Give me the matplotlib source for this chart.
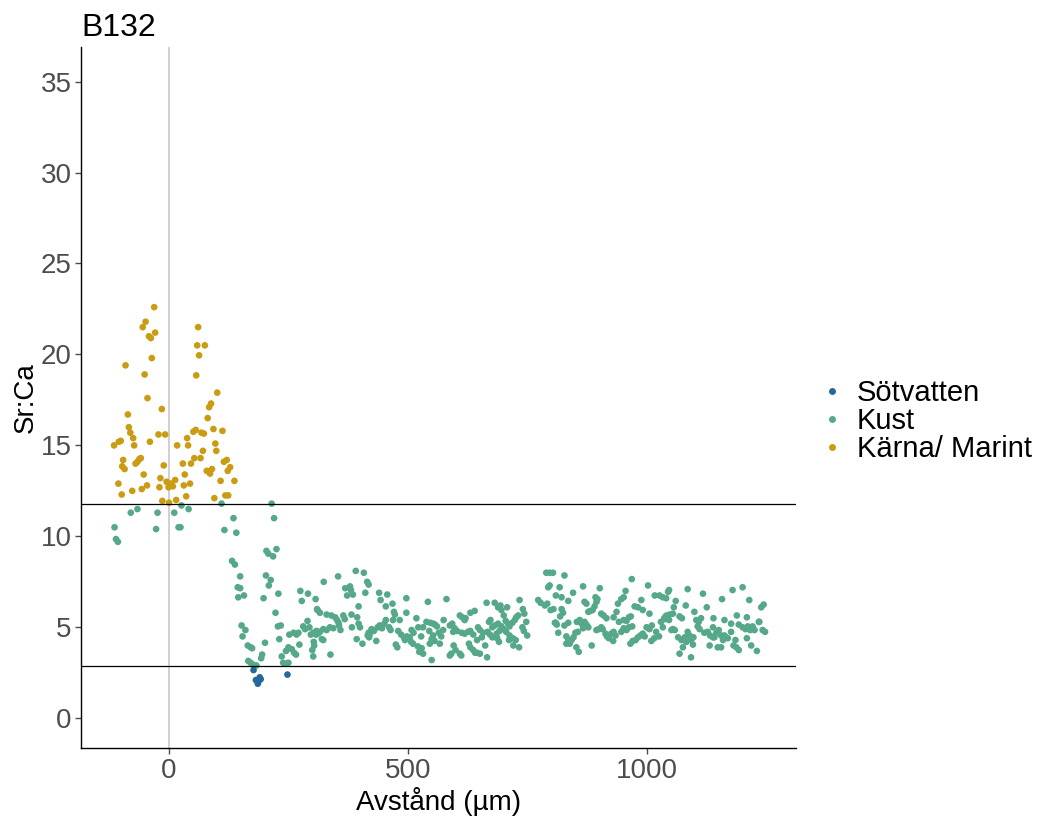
import matplotlib
matplotlib.use("Agg")
import matplotlib.pyplot as plt
from matplotlib.lines import Line2D
import numpy as np

plt.rcParams['font.family'] = ['Liberation Sans', 'DejaVu Sans']

# Sr:Ca profile, sample B132 (x = distance in µm, y = Sr:Ca)
marint_pts = [
    (-31, 22.6), (-49, 21.8), (-55, 21.5), (-29, 21.2), (-42, 21.0), (-38, 20.9), (-36, 19.8),
    (-91, 19.4), (-51, 18.9), (-45, 17.6), (-15, 17.0), (-86, 16.7), (-84, 16.0), (-81, 15.7),
    (-75, 15.4), (-115, 15.0), (-105, 15.2), (-101, 15.25), (-73, 15.0), (-40, 15.2), (-22, 15.6),
    (-8, 15.6), (-96, 14.2), (-98, 13.85), (-93, 13.7), (-70, 14.0), (-66, 14.1), (-62, 14.25),
    (-59, 14.3), (-53, 13.4), (-11, 13.9), (-106, 12.9), (-99, 12.3), (-77, 12.5), (-57, 12.6),
    (-46, 12.8), (-18, 13.2), (-20, 12.7), (-5, 13.0), (-1, 12.7), (4, 12.9), (8, 12.75),
    (13, 13.1), (-14, 11.95), (0, 11.85), (15, 12.0), (17, 15.0), (29, 14.0), (33, 13.4),
    (31, 12.8), (36, 12.2), (44, 12.9), (46, 14.0), (38, 15.4), (40, 15.0), (53, 14.3),
    (66, 14.3), (71, 14.7), (51, 15.75), (56, 15.85), (68, 15.7), (73, 15.65), (61, 21.5),
    (59, 20.5), (75, 20.5), (63, 19.95), (57, 18.85), (101, 17.9), (88, 17.3), (84, 17.1),
    (81, 16.5), (93, 15.9), (112, 15.8), (97, 15.1), (99, 14.7), (79, 13.6), (86, 13.45),
    (90, 13.7), (108, 13.05), (115, 14.1), (121, 14.2), (123, 13.6), (128, 13.8), (137, 13.05),
    (95, 12.1), (118, 12.25), (124, 12.25),
]

sot_pts = [(177, 2.65), (182, 2.1), (187, 2.0), (190, 2.25), (192, 2.15), (186, 1.9), (248, 2.4)]

kust_pts = [
    # start of profile / transition
    (-114, 10.5), (-111, 9.85), (-107, 9.7), (-80, 11.3), (-66, 11.5), (-27, 10.4), (-24, 11.3),
    (11, 11.3), (20, 10.5), (24, 10.5), (26, 11.7), (41, 11.5), (110, 11.8), (116, 10.35),
    (135, 11.0), (141, 10.2), (132, 8.65), (138, 8.45), (149, 7.8), (144, 7.2), (149, 7.15),
    (145, 6.65), (157, 6.75), (152, 5.1), (160, 4.85), (154, 4.5), (165, 4.0), (171, 3.9),
    (174, 3.85), (166, 3.15), (171, 3.05), (176, 2.95), (183, 2.9), (215, 11.8), (220, 11.0),
    (204, 9.2), (208, 9.05), (218, 8.9), (225, 9.3), (203, 7.85), (213, 7.6), (209, 7.3),
    (198, 6.6), (229, 6.85), (223, 5.8), (228, 5.05), (234, 5.1), (231, 4.35), (201, 4.15),
    (195, 3.5), (193, 3.3), (236, 3.4), (239, 3.05), (246, 3.0), (250, 3.05), (245, 3.7),
    (250, 3.9), (257, 3.8), (262, 3.6), (266, 3.5), (273, 4.05), (252, 4.6), (261, 4.7),
    (267, 4.6), (271, 4.7), (275, 7.0), (278, 6.45), (291, 6.85), (307, 6.55), (281, 5.05),
    (285, 4.9), (290, 5.35), (294, 5.0), (297, 4.6), (302, 4.7), (309, 4.8), (303, 4.2),
    (312, 4.65), (302, 3.4), (310, 6.0),
    # 300-500
    (324, 7.5), (354, 7.8), (391, 8.1), (408, 8.0), (369, 7.15), (379, 7.25), (381, 7.05),
    (385, 6.8), (373, 6.75), (415, 7.5), (418, 7.35), (411, 6.9), (440, 6.9), (457, 6.8),
    (443, 6.5), (468, 6.3), (454, 6.15), (497, 6.6), (311, 5.95), (316, 5.8), (330, 5.7),
    (340, 5.65), (348, 5.55), (352, 5.4), (365, 5.65), (368, 5.45), (397, 6.15), (382, 5.7),
    (394, 5.55), (397, 5.2), (383, 5.0), (400, 5.0), (356, 5.1), (359, 4.85), (355, 5.25),
    (337, 5.0), (344, 4.95), (330, 4.85), (323, 4.9), (316, 4.75), (308, 4.6), (320, 4.35),
    (323, 4.3), (304, 4.0), (300, 3.75), (338, 3.5), (393, 4.35), (405, 4.1), (424, 4.9),
    (429, 4.8), (437, 5.0), (441, 5.1), (446, 4.95), (451, 5.2), (454, 5.4), (418, 4.7),
    (420, 4.6), (416, 4.55), (434, 4.25), (419, 4.45), (461, 5.0), (464, 4.85), (471, 5.85),
    (473, 5.7), (469, 5.4), (483, 5.4), (480, 4.8), (486, 4.6), (492, 4.45), (494, 4.3),
    (498, 4.5), (497, 5.8), (475, 4.05), (478, 3.9),
    # 500-750
    (518, 5.5), (508, 4.85), (512, 4.7), (504, 4.45), (507, 4.2), (511, 4.1), (522, 5.0),
    (532, 5.0), (528, 4.5), (521, 3.95), (529, 3.85), (524, 3.65), (532, 3.55), (542, 6.4),
    (539, 5.3), (547, 5.25), (553, 5.2), (557, 5.15), (561, 5.05), (545, 4.8), (553, 4.55),
    (550, 4.35), (556, 4.25), (546, 4.1), (550, 3.2), (565, 4.7), (570, 4.5), (574, 4.85),
    (575, 5.4), (567, 4.1), (581, 6.55), (588, 5.1), (593, 5.2), (598, 4.95), (603, 4.8),
    (595, 4.75), (596, 4.0), (600, 3.75), (588, 3.45), (591, 3.55), (609, 3.55), (612, 3.45),
    (609, 5.65), (614, 5.55), (619, 5.4), (613, 4.7), (619, 4.65), (626, 4.75), (631, 4.8),
    (637, 4.6), (628, 4.1), (631, 3.9), (637, 3.75), (641, 3.6), (645, 3.6), (651, 3.55),
    (631, 5.8), (640, 5.9), (621, 5.5), (647, 5.0), (651, 4.85), (658, 4.7), (655, 4.45),
    (645, 4.3), (666, 3.35), (662, 4.0), (665, 6.35), (682, 6.35), (689, 6.1), (694, 6.2),
    (708, 6.1), (701, 5.65), (696, 5.95), (670, 5.3), (673, 5.4), (677, 5.0), (682, 5.1),
    (689, 5.2), (696, 5.05), (667, 4.75), (672, 4.6), (677, 4.45), (686, 4.65), (692, 4.8),
    (687, 4.4), (691, 4.2), (705, 5.35), (710, 5.2), (713, 5.05), (719, 5.25), (724, 5.4),
    (727, 5.55), (731, 5.65), (701, 4.9), (706, 4.75), (713, 4.55), (720, 4.4), (726, 4.3),
    (712, 4.3), (733, 3.9), (721, 4.0), (741, 6.0), (744, 5.75), (748, 5.3), (740, 5.0),
    (743, 4.8), (750, 4.55), (734, 6.5),
    # 750-1050
    (790, 8.0), (797, 8.0), (804, 8.0), (828, 7.85), (797, 7.3), (794, 7.2), (818, 7.2),
    (810, 6.75), (822, 6.65), (836, 6.45), (846, 6.9), (867, 7.25), (902, 7.15), (773, 6.5),
    (778, 6.35), (787, 6.2), (792, 6.3), (799, 5.95), (805, 6.0), (822, 6.0), (825, 5.8),
    (819, 5.6), (810, 5.25), (812, 5.15), (828, 5.1), (836, 5.25), (815, 4.7), (808, 5.25),
    (832, 4.5), (836, 4.3), (832, 4.1), (839, 4.1), (843, 4.3), (847, 4.45), (851, 4.7),
    (856, 4.75), (853, 3.9), (858, 3.65), (854, 5.3), (860, 5.4), (864, 5.2), (867, 4.95),
    (870, 5.3), (874, 5.15), (878, 5.0), (870, 6.4), (874, 6.3), (878, 5.85), (882, 5.9),
    (887, 5.95), (891, 6.15), (895, 6.4), (897, 6.55), (893, 6.65), (885, 4.0), (895, 4.85),
    (900, 4.9), (905, 5.0), (908, 4.9), (905, 5.75), (910, 5.65), (916, 5.5), (914, 4.65),
    (917, 4.5), (921, 4.4), (926, 4.65), (931, 4.75), (930, 4.25), (935, 4.55), (931, 5.55),
    (937, 5.85), (940, 6.3), (947, 6.55), (952, 6.65), (956, 7.0), (969, 7.65), (942, 5.3),
    (952, 5.4), (958, 5.35), (963, 5.55), (967, 5.6), (947, 4.75), (952, 4.95), (958, 4.85),
    (963, 5.0), (970, 5.05), (966, 4.1), (971, 4.25), (977, 4.3), (982, 4.45), (987, 4.55),
    (992, 4.65), (996, 4.5), (975, 6.15), (982, 6.1), (989, 6.5), (992, 5.95), (1003, 7.3),
    (1006, 5.75), (1000, 5.0), (1006, 4.9), (1011, 5.1), (1016, 4.4), (1010, 4.25), (1020, 4.75),
    (1026, 4.5), (1030, 5.3), (1034, 5.0), (1038, 5.45), (1042, 5.65), (1047, 5.4), (1017, 6.75),
    (1027, 6.75), (1034, 6.65), (1045, 6.95), (1041, 6.6),
    # 1050-1250
    (1047, 7.05), (1086, 7.1), (1118, 6.85), (1180, 7.05), (1201, 7.2), (1158, 6.55), (1215, 6.5),
    (1061, 6.45), (1057, 6.1), (1082, 6.2), (1126, 6.1), (1100, 5.85), (1055, 5.75), (1048, 5.7),
    (1040, 5.6), (1037, 5.5), (1069, 5.6), (1074, 5.5), (1104, 5.4), (1109, 5.3), (1114, 5.5),
    (1107, 5.05), (1111, 4.9), (1140, 5.5), (1163, 5.4), (1189, 5.65), (1210, 5.55), (1235, 5.3),
    (1245, 6.25), (1240, 6.1), (1055, 4.9), (1052, 4.85), (1059, 4.85), (1086, 4.75), (1090, 4.55),
    (1066, 4.45), (1073, 4.3), (1080, 4.45), (1083, 4.2), (1076, 3.9), (1069, 3.55), (1093, 4.3),
    (1097, 4.05), (1098, 4.45), (1093, 3.35), (1121, 4.7), (1128, 4.75), (1133, 4.55), (1139, 4.45),
    (1139, 5.0), (1142, 4.45), (1146, 4.7), (1151, 4.85), (1156, 4.55), (1163, 4.55), (1167, 4.45),
    (1170, 4.4), (1160, 4.3), (1132, 4.0), (1149, 3.9), (1156, 3.9), (1177, 5.2), (1193, 5.15),
    (1177, 4.75), (1186, 4.3), (1182, 4.0), (1188, 3.9), (1193, 3.75), (1201, 5.0), (1207, 4.9),
    (1212, 5.05), (1217, 4.85), (1222, 5.05), (1226, 4.85), (1210, 4.4), (1219, 4.0), (1231, 3.7),
    (1236, 5.3), (1243, 4.85), (1248, 4.75),
]

limits = [11.8, 2.9]          # threshold lines
groups = ['Sötvatten', 'Kust', 'Kärna/ Marint']
colors = ['#24679a', '#55a888', '#c99c12']

fig = plt.figure(figsize=(10.4, 8.25), dpi=100)
ax = fig.add_axes([0.078, 0.093, 0.687, 0.850])

ax.axvline(0, color='#c8c8c8', lw=1.2, zorder=1)

for pts, col in zip([kust_pts, marint_pts, sot_pts], [colors[1], colors[2], colors[0]]):
    arr = np.array(pts)
    ax.scatter(arr[:, 0], arr[:, 1], s=23, color=col, edgecolors='none', zorder=2)

for h in limits:
    ax.axhline(h, color='black', lw=0.9, zorder=3)

ax.set_xlim(-184, 1312)
ax.set_ylim(-1.65, 36.9)
ax.set_xticks([0, 500, 1000])
ax.set_yticks(range(0, 36, 5))

for s in ['top', 'right']:
    ax.spines[s].set_visible(False)
for s in ['left', 'bottom']:
    ax.spines[s].set_linewidth(1.0)
ax.tick_params(labelsize=20, colors='#4d4d4d', length=4, width=1, pad=3)

ax.set_xlabel('Avstånd (µm)', fontsize=20, labelpad=2)
ax.set_ylabel('Sr:Ca', fontsize=20, labelpad=1)
ax.set_title('B132', loc='left', fontsize=23, pad=8)

handles = [Line2D([], [], ls='none', marker='o', ms=5, color=c, markeredgewidth=0) for c in colors]
fig.legend(handles, groups, loc='center left', bbox_to_anchor=(0.782, 0.49), frameon=False,
           fontsize=21, handletextpad=0.4, labelspacing=0.0, handlelength=0.9,
           borderaxespad=0, borderpad=0.2)

fig.savefig('out.png', dpi=100)
